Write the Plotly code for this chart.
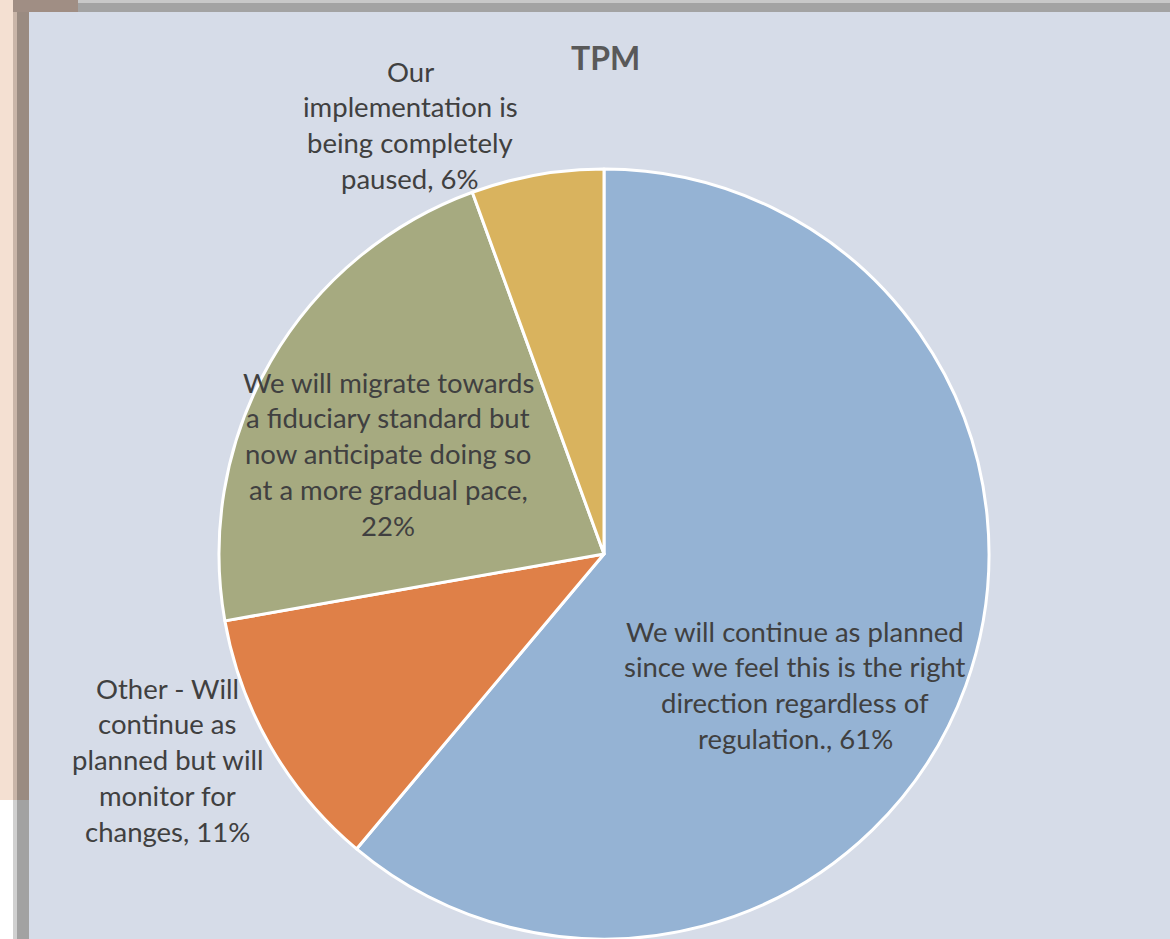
import plotly.graph_objects as go

# ---- data ----
categories = [
    "We will continue as planned since we feel this is the right direction regardless of regulation.",
    "Other - Will continue as planned but will monitor for changes",
    "We will migrate towards a fiduciary standard but now anticipate doing so at a more gradual pace",
    "Our implementation is being completely paused",
]
counts = [11, 2, 4, 1]          # respondents (61%, 11%, 22%, 6%)
colors = ["#95B3D4", "#DF8048", "#A6AA80", "#D9B35E"]

# label line breaks (layout) and label centre positions in pixels
label_lines = [
    ["We will continue as planned", "since we feel this is the right", "direction regardless of", "regulation., {v}%"],
    ["Other - Will", "continue as", "planned but will", "monitor for", "changes, {v}%"],
    ["We will migrate towards", "a fiduciary standard but", "now anticipate doing so", "at a more gradual pace,", "{v}%"],
    ["Our", "implementation is", "being completely", "paused, {v}%"],
]
label_pos = [(795, 631), (167, 688), (388, 382), (410, 71)]  # (x centre, first line centre y) px
LINE_H = 35.8

W, H = 1170, 939
total = sum(counts)
pcts = [round(100 * c / total) for c in counts]

fig = go.Figure(go.Pie(
    labels=categories, values=counts, sort=False, direction="clockwise", rotation=0,
    marker=dict(colors=colors, line=dict(color="white", width=3)),
    textinfo="none", hoverinfo="label+percent", showlegend=False,
    domain=dict(x=[219 / W, 989 / W], y=[0, 770 / H]),
))

anns = []
for lines, (cx, cy), v in zip(label_lines, label_pos, pcts):
    for i, ln in enumerate(lines):
        y = cy + i * LINE_H
        anns.append(dict(text=ln.format(v=v), x=cx / W, y=1 - y / H, xref="paper", yref="paper",
                         showarrow=False, xanchor="center", yanchor="middle",
                         font=dict(family="Lato", size=27.5, color="#404040")))
anns.append(dict(text="<b>TPM</b>", x=605 / W, y=1 - 57 / H, xref="paper", yref="paper",
                 showarrow=False, xanchor="center", yanchor="middle",
                 font=dict(family="Lato", size=32, color="#595959")))

def rect(x0, y0, x1, y1, color, layer="above"):
    return dict(type="rect", xref="paper", yref="paper", x0=x0 / W, x1=x1 / W,
                y0=1 - y1 / H, y1=1 - y0 / H, fillcolor=color, line=dict(width=0), layer=layer)

shapes = [
    rect(0, 0, 29, 800, "#F4E0D2"),
    rect(0, 800, 29, H, "#FFFFFF"),
    rect(13, 0, 17, 800, "#C9B5A8"),
    rect(17, 0, 29, 800, "#9A8B81"),
    rect(13, 800, 17, H, "#D0D0D0"),
    rect(17, 800, 29, H, "#A2A2A2"),
    rect(13, 0, 78, 12, "#A08E84"),
    rect(78, 0, W, 12, "#A3A3A3"),
    rect(78, 0, W, 3, "#C8C8C8"),
]

fig.update_layout(
    width=W, height=H, margin=dict(l=0, r=0, t=0, b=0),
    paper_bgcolor="#D6DCE8", plot_bgcolor="#D6DCE8",
    annotations=anns, shapes=shapes,
    font=dict(family="Lato", color="#404040"),
)
fig.write_html("out.html", config={"displayModeBar": False},
               post_script="document.body.style.margin='0';document.body.style.overflow='hidden';")
